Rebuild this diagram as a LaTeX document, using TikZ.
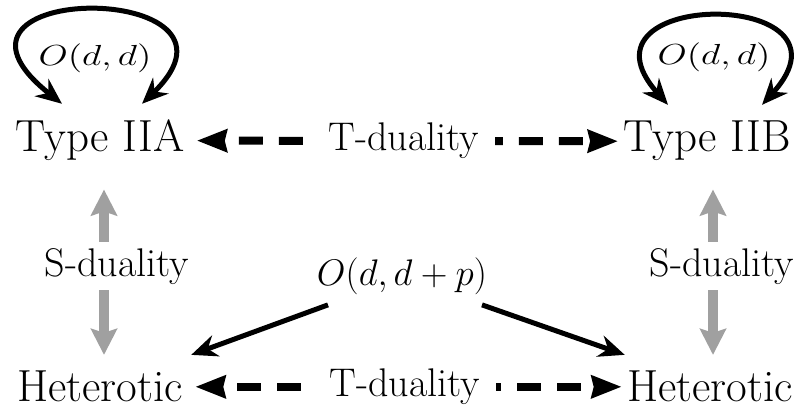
\RequirePackage{fix-cm}
\documentclass[tikz,border=0pt]{standalone}
\usetikzlibrary{arrows.meta,positioning}
\definecolor{sgray}{RGB}{160,160,160}

\begin{document}
\begin{tikzpicture}[
    x=0.5pt, y=-0.5pt,
    theory/.style={font=\fontsize{22.5}{27}\selectfont, inner xsep=6pt, inner ysep=8pt, anchor=base},
    dual/.style={font=\fontsize{20}{24}\selectfont, fill=white, inner xsep=8pt, inner ysep=3pt},
    grp/.style={font=\fontsize{14.5}{18}\selectfont, inner sep=0pt, xscale=1.3},
    tarr/.style={{Stealth[length=15pt,width=11pt,inset=1pt]}-{Stealth[length=15pt,width=11pt,inset=1pt]}, line width=4pt, dash pattern=on 12pt off 8pt, dash phase=12pt},
    sarr/.style={{Stealth[length=13pt,width=13pt,inset=2pt]}-{Stealth[length=13pt,width=13pt,inset=2pt]}, line width=5pt, draw=sgray},
    harr/.style={-{Stealth[length=13pt,width=11pt]}, line width=2.5pt},
    selfarr/.style={{Stealth[length=13pt,width=11pt]}-{Stealth[length=13pt,width=11pt]}, line width=2.5pt}
  ]
    \useasboundingbox (0,0) rectangle (802,410);
    \node[theory] (iia) at (100,152) {Type IIA};
    \node[theory] (iib) at (707,152) {Type IIB};
    \node[theory] (hetl) at (100,402) {Heterotic};
    \node[theory] (hetr) at (710,402) {Heterotic};
    \node[font=\fontsize{18.5}{22}\selectfont, inner sep=5pt] (odp) at (402,276) {$O(d,d+p)$};
    \node[grp] (oddl) at (95,58) {$O(d,d)$};
    \node[grp] (oddr) at (714,57) {$O(d,d)$};

    \draw[tarr, shorten >=-3.5pt] (iia.east) -- (iib.west) node[dual, midway] {T-duality};
    \draw[tarr, shorten >=-3.5pt] (hetl.east) -- (hetr.west) node[dual, midway] {T-duality};

    \draw[sarr, shorten <=6pt] ([xshift=2pt]iia.south) -- ([xshift=2pt]hetl.north)
      node[dual, midway, xshift=6.5pt] {S-duality};
    \draw[sarr, shorten <=6pt] ([xshift=3pt]iib.south) -- ([xshift=1.5pt]hetr.north)
      node[dual, midway, xshift=4.5pt] {S-duality};

    \draw[selfarr] ([xshift=-19pt]iia.north) .. controls +(-78pt,62pt) and +(64pt,62pt) .. ([xshift=21pt]iia.north);
    \draw[selfarr] ([xshift=-19.5pt]iib.north) .. controls +(-52pt,58.5pt) and +(53pt,58.5pt) .. ([xshift=27.5pt]iib.north);

    \draw[harr] ([xshift=-37pt]odp.south) -- ([xshift=-2pt]hetl.north east);
    \draw[harr] ([xshift=40pt]odp.south) -- ([xshift=5pt]hetr.north west);
  \end{tikzpicture}
\end{document}
